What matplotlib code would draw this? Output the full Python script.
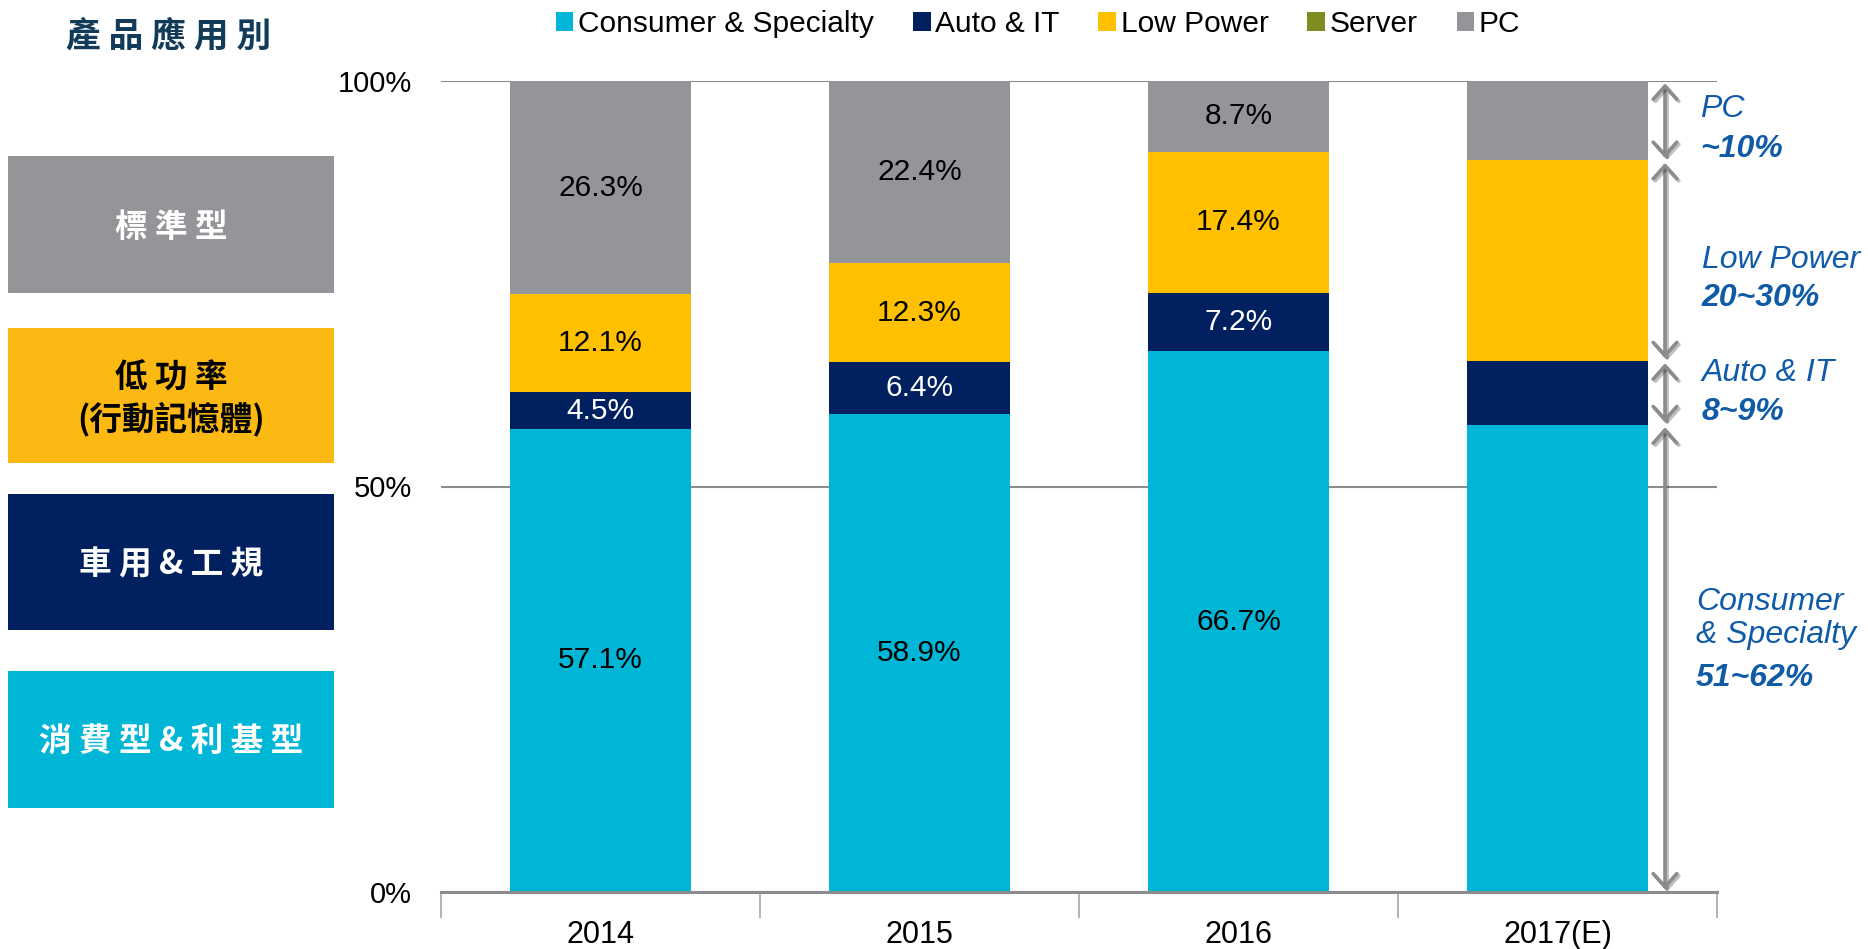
import matplotlib
matplotlib.use("Agg")
import matplotlib.pyplot as plt
import matplotlib.patheffects as pe
import numpy as np
from matplotlib.patches import Patch, Rectangle

plt.rcParams['font.family'] = ['Liberation Sans', 'Noto Sans CJK TC', 'DejaVu Sans']

# donnees (%)
annees = ["2014", "2015", "2016", "2017(E)"]
series = ["Consumer & Specialty", "Auto & IT", "Low Power", "Server", "PC"]
consumer = [57.1, 58.9, 66.7, 57.6]
auto_it = [4.5, 6.4, 7.2, 7.9]
low_power = [12.1, 12.3, 17.4, 24.7]
server = [0.0, 0.0, 0.0, 0.0]
pc = [26.3, 22.4, 8.7, 9.8]
# etiquettes affichees dans les barres (2017 sans etiquette)
montrer_etiquettes = [True, True, True, False]

couleurs = ["#00B6D6", "#002060", "#FFC000", "#7F8C1F", "#939598"]
couleurs_texte = ["black", "white", "black", "black", "black"]

boites = ["標 準 型", "低 功 率\n(行動記憶體)", "車 用 & 工 規", "消 費 型 & 利 基 型"]
couleurs_boites = ["#939598", "#FDB913", "#002060", "#00B6D6"]
texte_boites = ["white", "black", "white", "white"]

annot_noms = ["PC", "Low Power", "Auto & IT", "Consumer\n& Specialty"]
annot_plages = ["~10%", "20~30%", "8~9%", "51~62%"]

W, H = 1868, 949
fig = plt.figure(figsize=(W / 100, H / 100), dpi=100)
ax = fig.add_axes([441 / W, 1 - 892 / H, (1717 - 441) / W, (892 - 81) / H])

x = np.arange(len(annees))
valeurs = [consumer, auto_it, low_power, server, pc]
bas = np.zeros(len(annees))
for serie, vals, c, ct in zip(series, valeurs, couleurs, couleurs_texte):
    vals = np.array(vals)
    ax.bar(x, vals, bottom=bas, width=0.568, color=c, label=serie, zorder=2)
    for i, v in enumerate(vals):
        if montrer_etiquettes[i] and v > 0:
            ax.text(x[i], bas[i] + v / 2, f"{v:.1f}%", ha="center", va="center",
                    fontsize=21.5, color=ct, zorder=3)
    bas = bas + vals

ax.set_xlim(-0.5, 3.5)
ax.set_ylim(0, 100)
ax.set_yticks([0, 50, 100])
ax.set_yticklabels(["0%", "50%", "100%"])
ax.tick_params(axis="y", length=0, pad=21, labelsize=21)
ax.set_xticks(x)
ax.set_xticklabels(annees)
ax.tick_params(axis="x", which="major", length=0, pad=20, labelsize=22)
ax.set_xticks(np.arange(-0.5, 4, 1), minor=True)
ax.tick_params(axis="x", which="minor", length=19, width=1.2, color="#A6A6A6")
for s in ["top", "right", "left"]:
    ax.spines[s].set_visible(False)
ax.spines["bottom"].set_color("#8C8C8C")
ax.spines["bottom"].set_linewidth(2.2)
ax.set_axisbelow(True)
ax.yaxis.grid(True, color="#8C8C8C", linewidth=1.5)

# fleches a droite (segments de 2017)
xa = 3.337
bornes = np.cumsum([0, consumer[3], auto_it[3], low_power[3] + server[3], pc[3]])
segs = [(bornes[3], bornes[4]), (bornes[2], bornes[3]), (bornes[1], bornes[2]), (bornes[0], bornes[1])]
for (b, h) in segs:
    fl = ax.annotate("", xy=(xa, h - 0.3), xytext=(xa, b + 0.3),
                     arrowprops=dict(arrowstyle="<->,head_length=0.95,head_width=0.85",
                                     color="#8C8C8C", lw=2.6, shrinkA=0, shrinkB=0,
                                     mutation_scale=10), zorder=4, annotation_clip=False)
    fl.arrow_patch.set_path_effects([pe.SimpleLineShadow(offset=(1.5, -1.5), alpha=0.25),
                                     pe.Normal()])

bleu = "#0F5BA8"
pos_noms = [(3.447, 96.5), (3.452, 77.9), (3.452, 64.0), (3.434, 33.7)]
pos_plages = [(3.447, 91.6), (3.452, 73.2), (3.452, 59.2), (3.434, 26.4)]
for nom, plage, (xn, yn), (xp, yp) in zip(annot_noms, annot_plages, pos_noms, pos_plages):
    ax.text(xn, yn, nom, ha="left", va="center", fontsize=23, color=bleu,
            style="italic", linespacing=1.15)
    ax.text(xp, yp, plage, ha="left", va="center", fontsize=23, color=bleu,
            style="italic", fontweight="bold")

# legende en haut
poignees = [Patch(facecolor=c) for c in couleurs]
fig.legend(poignees, series, loc="center", bbox_to_anchor=(1038 / W, 1 - 24 / H),
           ncol=5, frameon=False, fontsize=21.5, handlelength=0.6, handleheight=0.6,
           handletextpad=0.15, columnspacing=1.3)

# titre et boites a gauche
cjk = ["Noto Sans CJK TC", "DejaVu Sans"]
fig.text(169 / W, 1 - 36 / H, "產 品 應 用 別", ha="center", va="center", fontsize=25,
         color="#123B5A", fontweight="bold", family=cjk)
boites_px = [(156, 293), (328, 463), (494, 630), (671, 808)]
for txt, c, ct, (y0, y1) in zip(boites, couleurs_boites, texte_boites, boites_px):
    fig.add_artist(Rectangle((8 / W, 1 - y1 / H), (334 - 8) / W, (y1 - y0) / H,
                             transform=fig.transFigure, facecolor=c, edgecolor="none"))
    fig.text(171 / W, 1 - ((y0 + y1) / 2 + 3) / H, txt, ha="center", va="center",
             fontsize=23.5, color=ct, fontweight="bold", family=cjk, linespacing=1.25)

fig.savefig("out.png", dpi=100)
